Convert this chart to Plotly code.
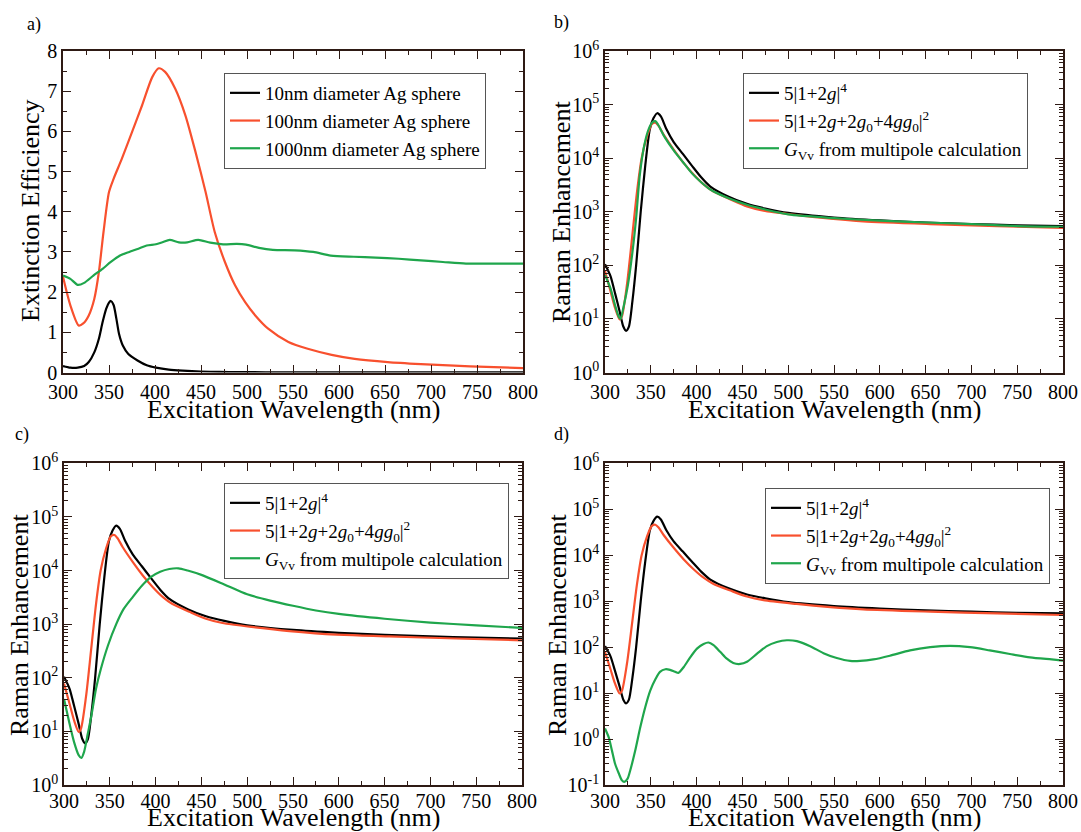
import plotly.graph_objects as go

# ---------------- Panel a: extinction efficiency ----------------
wl_a_10 = [300, 308, 316, 323, 328, 334, 339, 343, 347, 350, 352, 355, 358, 361, 365, 371, 381, 391, 401,
           415, 430, 450, 470, 490, 520, 560, 620, 700, 800]
ext_10 = [0.16, 0.12, 0.12, 0.16, 0.26, 0.50, 0.84, 1.25, 1.59, 1.74, 1.78, 1.68, 1.34, 0.95, 0.67, 0.46, 0.30,
          0.18, 0.12, 0.07, 0.045, 0.025, 0.015, 0.01, 0.006, 0.004, 0.003, 0.002, 0.001]

wl_a_100 = [300, 308, 317, 322, 328, 334, 339, 344, 350, 355, 364, 375, 386, 397, 404, 411, 422, 433, 444, 455,
            465, 476, 487, 498, 509, 523, 545, 566, 592, 617, 653, 689, 725, 760, 800]
ext_100 = [2.38, 1.67, 1.17, 1.22, 1.42, 1.83, 2.50, 3.49, 4.49, 4.82, 5.32, 5.98, 6.65, 7.35, 7.57, 7.48, 7.06,
           6.40, 5.49, 4.49, 3.49, 2.75, 2.17, 1.75, 1.42, 1.09, 0.76, 0.59, 0.44, 0.34, 0.26, 0.21, 0.17, 0.14, 0.11]

wl_a_1000 = [300, 308, 316, 323, 333, 343, 352, 362, 372, 382, 391, 401, 408, 416, 426, 435, 447, 460, 474, 489,
             499, 513, 528, 552, 572, 591, 616, 640, 665, 689, 713, 738, 762, 790, 800]
ext_1000 = [2.41, 2.33, 2.18, 2.23, 2.41, 2.58, 2.75, 2.91, 3.00, 3.08, 3.16, 3.19, 3.24, 3.30, 3.24, 3.24, 3.30,
            3.23, 3.19, 3.20, 3.18, 3.10, 3.05, 3.04, 3.00, 2.91, 2.88, 2.86, 2.83, 2.79, 2.75, 2.71, 2.71, 2.71, 2.71]

# ---------------- Panels b-d: Raman enhancement ----------------
wl_k = [300, 306, 311, 316, 320, 323, 326, 330, 334, 339, 344, 349, 353, 357, 361, 367, 375, 385, 395, 405, 415,
        435, 455, 475, 500, 550, 600, 650, 700, 750, 800]
G_k = [105, 63, 30, 13.8, 7.2, 6.0, 7.1, 22, 100, 1000, 7400, 35000, 56000, 69000, 60000, 35000, 20000, 12000,
       7200, 4400, 2950, 1900, 1400, 1150, 950, 780, 690, 630, 590, 560, 540]

wl_r = [300, 306, 311, 316, 318.5, 324, 329.5, 335, 340, 346, 351, 355, 358.5, 364, 375, 386, 397, 408, 418, 437,
        455, 473, 509, 546, 582, 655, 728, 800]
G_r = [78, 33, 16, 9.8, 11.2, 44, 320, 2400, 10000, 26000, 43000, 46000, 40000, 27500, 14500, 8100, 4900, 3200,
       2400, 1700, 1260, 1050, 870, 740, 660, 590, 540, 500]

wl_gb = [300, 306, 311, 315, 317, 320, 325, 330, 334, 338, 343, 348, 352, 355, 358, 365, 375, 385, 395, 405, 415,
         435, 455, 475, 500, 550, 600, 650, 700, 750, 800]
G_gb = [66, 37, 18, 11, 10, 16, 43, 178, 760, 4900, 17800, 36000, 47000, 49000, 42000, 25000, 14000, 8500, 5200,
        3550, 2600, 1780, 1350, 1100, 890, 760, 680, 630, 590, 540, 525]

wl_gc = [300, 306, 311, 316, 319, 322, 326, 330, 335, 340, 348, 357, 365, 375, 385, 395, 405, 415, 425, 435, 450,
         475, 500, 525, 550, 575, 600, 650, 700, 750, 800]
G_gc = [40, 14, 6.3, 3.6, 3.2, 4.2, 9.1, 20, 63, 141, 400, 1000, 1900, 3200, 5200, 7600, 9500, 10700, 11000,
        10000, 8300, 5500, 3600, 2750, 2200, 1800, 1550, 1260, 1070, 950, 850]

wl_gd = [300, 304, 307.6, 311, 315, 318.5, 321, 324.7, 327.6, 333, 338.5, 344, 349.5, 355, 360, 366, 371, 376.7,
         380, 386, 393, 400.4, 407.6, 413, 418.5, 426, 433, 440, 447.6, 455, 466, 476.7, 487.6, 498.5, 509.5, 524,
         538.5, 553, 567.6, 578.5, 593, 611, 633, 655, 676.7, 698.5, 720, 742, 764, 787.6, 800]
G_gd = [1.7, 1.1, 0.56, 0.29, 0.18, 0.126, 0.117, 0.138, 0.21, 0.56, 1.8, 5.0, 11.5, 20, 29, 33, 32, 29, 27.5, 37,
        60, 93, 117, 126, 110, 78, 56, 45, 43, 48, 72, 105, 129, 141, 135, 105, 74, 58, 50, 50, 54, 65, 85, 100,
        107, 100, 85, 71, 60, 54, 51]

x_ticks = [300, 350, 400, 450, 500, 550, 600, 650, 700, 750, 800]
lin_ticks = [0, 1, 2, 3, 4, 5, 6, 7, 8]
log_ticks_bc = [1, 10, 100, 1000, 10000, 100000, 1000000]
log_labels_bc = ["10<sup>0</sup>", "10<sup>1</sup>", "10<sup>2</sup>", "10<sup>3</sup>", "10<sup>4</sup>",
                 "10<sup>5</sup>", "10<sup>6</sup>"]
log_ticks_d = [0.1] + log_ticks_bc
log_labels_d = ["10<sup>-1</sup>"] + log_labels_bc

leg_a = ["10nm diameter Ag sphere", "100nm diameter Ag sphere", "1000nm diameter Ag sphere"]
leg_r = ["5|1+2<i>g</i>|<sup>4</sup>",
         "5|1+2<i>g</i>+2<i>g</i><sub>0</sub>+4<i>gg</i><sub>0</sub>|<sup>2</sup>",
         "<i>G</i><sub>Vv</sub> from multipole calculation"]

BLACK = "#000000"
RED = "#f8502e"
GREEN = "#1fa64c"
FRAME = "#2e1a14"
FONT = "Liberation Serif"
LW = 2.2

fig = go.Figure()

def add(x, y, name, color, xa, ya, leg):
    fig.add_trace(go.Scatter(x=x, y=y, mode="lines", name=name,
                             line=dict(color=color, width=LW, shape="spline", smoothing=0.7),
                             xaxis=xa, yaxis=ya, legend=leg))

add(wl_a_10, ext_10, leg_a[0], BLACK, "x", "y", "legend")
add(wl_a_100, ext_100, leg_a[1], RED, "x", "y", "legend")
add(wl_a_1000, ext_1000, leg_a[2], GREEN, "x", "y", "legend")

panels = [("x2", "y2", "legend2", wl_gb, G_gb),
          ("x3", "y3", "legend3", wl_gc, G_gc),
          ("x4", "y4", "legend4", wl_gd, G_gd)]
for xa, ya, leg, wg, gg in panels:
    add(wl_k, G_k, leg_r[0], BLACK, xa, ya, leg)
    add(wl_r, G_r, leg_r[1], RED, xa, ya, leg)
    add(wg, gg, leg_r[2], GREEN, xa, ya, leg)

W, H = 1081, 832
def dx(a, b):
    return [a / W, b / W]
def dy(top, bot):
    return [1 - bot / H, 1 - top / H]

tickfont = dict(family=FONT, size=20, color="black")

common = dict(ticks="inside", ticklen=8, tickwidth=1.3, tickcolor=FRAME,
              showline=True, linecolor=FRAME, linewidth=1.6, mirror="allticks",
              showgrid=False, zeroline=False, tickfont=tickfont, automargin=False)

def xaxis(dom, anchor, standoff):
    return dict(domain=dom, anchor=anchor, range=[300, 800], tickvals=x_ticks, ticklabelstandoff=standoff,
                minor=dict(ticks="inside", ticklen=4, dtick=25, tick0=300, tickcolor=FRAME, tickwidth=1.2),
                **common)

def ylog(dom, anchor, rng, tv, tt):
    return dict(domain=dom, anchor=anchor, type="log", range=rng, tickvals=tv, ticktext=tt,
                minor=dict(ticks="inside", ticklen=4, dtick="D1", tickcolor=FRAME, tickwidth=1.0),
                **common)

da_x, db_x = dx(63, 523), dx(605, 1063)
dc_x, dd_x = dx(64, 522), dx(605, 1063)
top_y, bot_y = dy(51, 372.5), dy(463.3, 785)

fig.update_layout(
    width=W, height=H, margin=dict(l=0, r=0, t=0, b=0, autoexpand=False),
    paper_bgcolor="white", plot_bgcolor="white",
    font=dict(family=FONT, color="black"),
    xaxis=xaxis(da_x, "y", 1),
    yaxis=dict(domain=top_y, anchor="x", range=[0, 8], tickvals=lin_ticks,
               minor=dict(ticks="inside", ticklen=4, dtick=0.5, tick0=0, tickcolor=FRAME, tickwidth=1.2),
               **common),
    xaxis2=xaxis(db_x, "y2", 1),
    yaxis2=ylog(top_y, "x2", [0, 6], log_ticks_bc, log_labels_bc),
    xaxis3=xaxis(dc_x, "y3", -3),
    yaxis3=ylog(bot_y, "x3", [0, 6], log_ticks_bc, log_labels_bc),
    xaxis4=xaxis(dd_x, "y4", -3),
    yaxis4=ylog(bot_y, "x4", [-1, 6], log_ticks_d, log_labels_d),
    showlegend=True,
)

def legend(x, y):
    return dict(x=x / W, y=1 - y / H, xanchor="left", yanchor="top", xref="paper", yref="paper",
                bgcolor="white", bordercolor="#555555", borderwidth=1,
                font=dict(family=FONT, size=19, color="black"),
                traceorder="normal", itemwidth=30)

fig.update_layout(legend=legend(224, 73), legend2=legend(743, 73),
                  legend3=legend(224, 483), legend4=legend(765, 488))

def note(text, x, y, size, angle=0):
    fig.add_annotation(text=text, x=x / W, y=1 - y / H, xref="paper", yref="paper", showarrow=False,
                       textangle=angle, font=dict(family=FONT, size=size, color="black"),
                       xanchor="center", yanchor="middle")

for t, x, y in [("a)", 34, 24), ("b)", 561, 22), ("c)", 22, 434), ("d)", 561, 434)]:
    note(t, x, y, 18)

xt = "Excitation Wavelength (nm)"
for x, y in [(293, 409), (834, 409), (293, 817), (834, 817)]:
    note(xt, x, y, 26)
note("Extinction Efficiency", 31, 211, 26, -90)
note("Raman Enhancement", 561, 212, 26, -90)
note("Raman Enhancement", 19, 625, 26, -90)
note("Raman Enhancement", 557, 625, 26, -90)

fig.write_html("out.html")
